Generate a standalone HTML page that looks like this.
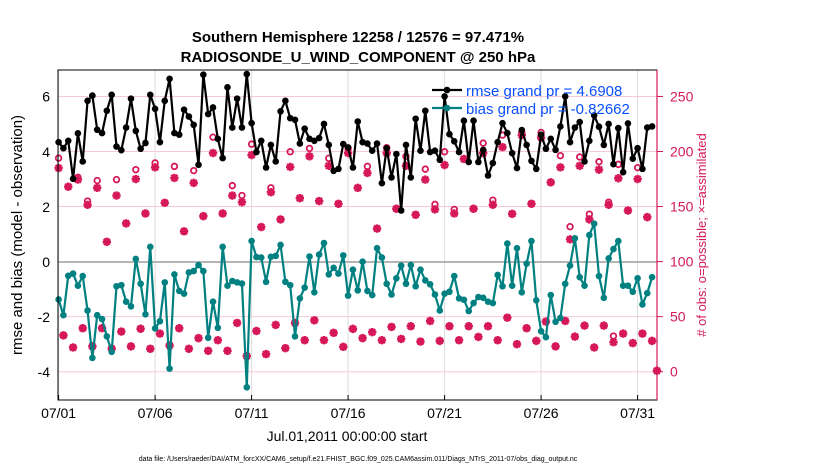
<!DOCTYPE html>
<html><head><meta charset="utf-8">
<style>
html,body{margin:0;padding:0;background:#fff;}
svg{display:block;font-family:"Liberation Sans",Arial,sans-serif;}
</style></head>
<body>
<svg id="chart" width="830" height="470" viewBox="0 0 830 470">
  <rect x="0" y="0" width="830" height="470" fill="#fff"/>
  <g id="grid"></g>
  <g id="marks"></g>
  <rect x="58" y="70" width="599" height="330" fill="none" stroke="#000" stroke-width="1"/>
  <line x1="657" y1="70" x2="657" y2="400" stroke="#d6185a" stroke-width="1.2"/>
  <g id="axes"></g>
  <text x="358" y="42" text-anchor="middle" font-size="15" font-weight="bold">Southern Hemisphere 12258 / 12576 = 97.471%</text>
  <text x="358" y="62" text-anchor="middle" font-size="15" font-weight="bold">RADIOSONDE_U_WIND_COMPONENT @ 250 hPa</text>
  <text transform="translate(22,235) rotate(-90)" text-anchor="middle" font-size="15">rmse and bias (model - observation)</text>
  <text transform="translate(706,235) rotate(-90)" text-anchor="middle" font-size="13" fill="#d6185a"># of obs: o=possible; ×=assimilated</text>
  <text x="347" y="441" text-anchor="middle" font-size="14">Jul.01,2011 00:00:00 start</text>
  <text x="358" y="461" text-anchor="middle" font-size="7">data file: /Users/raeder/DAI/ATM_forcXX/CAM6_setup/f.e21.FHIST_BGC.f09_025.CAM6assim.011/Diags_NTrS_2011-07/obs_diag_output.nc</text>
  <g>
    <line x1="432" y1="90" x2="462" y2="90" stroke="#000" stroke-width="2.2"/>
    <circle cx="447" cy="90" r="3.3" fill="#000"/>
    <text x="466" y="96" font-size="15" fill="#0a4fff">rmse grand pr = 4.6908</text>
    <line x1="432" y1="108" x2="462" y2="108" stroke="#008080" stroke-width="2.2"/>
    <circle cx="447" cy="108" r="3.3" fill="#008080"/>
    <text x="466" y="114" font-size="15" fill="#0a4fff">bias grand pr = -0.82662</text>
  </g>
</svg>
<script>
const rmse = [4.35,4.13,4.40,3.02,4.67,3.65,5.85,6.04,4.80,4.68,5.49,6.07,4.19,4.06,4.88,5.93,4.76,4.11,4.32,6.07,5.56,4.35,5.85,6.65,4.68,4.62,5.53,5.28,4.98,3.53,6.80,5.37,
5.61,4.47,3.77,6.34,4.88,5.93,4.88,6.82,5.04,3.99,4.40,3.43,4.25,3.65,5.47,5.85,5.22,5.16,4.30,4.84,4.47,4.40,4.50,5.01,4.25,3.31,3.38,4.28,4.16,3.43,5.10,
4.35,4.30,4.04,4.30,2.86,4.13,3.07,3.92,1.87,4.25,3.07,5.20,4.04,5.49,3.99,4.04,3.71,6.01,4.64,4.38,3.99,5.13,3.63,5.13,3.63,4.07,3.14,3.59,4.35,5.04,4.68,
3.95,3.41,4.79,4.25,3.67,3.38,4.62,4.11,4.47,4.07,4.92,6.01,4.35,4.88,5.08,3.65,4.40,5.32,4.91,4.25,5.01,3.55,4.86,3.26,5.03,3.75,4.13,3.38,4.88,4.92];
const bias = [-1.36,-1.93,-0.50,-0.42,-0.86,-0.51,-1.76,-3.48,-1.93,-2.07,-2.70,-3.26,-0.88,-0.84,-1.44,-1.61,0.11,-0.79,-1.90,0.55,-2.41,-2.15,-0.74,-3.87,-0.45,-1.05,-1.15,-0.38,-0.33,-0.11,-0.33,-2.75,
-1.44,-2.39,0.55,-0.86,-0.69,-0.74,-0.78,-4.55,0.76,0.18,0.16,-0.72,0.19,0.22,0.62,-0.72,-0.84,-2.70,-1.32,-0.93,0.20,-1.10,0.27,0.69,-0.45,-0.21,-0.42,0.24,-1.22,-0.28,-1.03,
0.01,-1.05,-1.20,0.50,0.16,-0.79,-1.18,-0.59,-0.13,-0.79,-0.11,-0.88,-0.28,-0.67,-0.81,-1.18,-1.76,-1.15,-1.08,-0.51,-1.32,-1.37,-1.78,-1.49,-1.27,-1.30,-1.44,-1.49,-0.47,-0.88,0.67,
-0.86,0.50,-1.10,-0.06,0.76,-1.39,-2.51,-2.73,-1.20,-2.17,-2.03,-0.79,-0.13,0.86,-0.55,-0.86,0.98,1.39,-0.51,-1.30,0.13,0.47,0.76,-0.86,-0.86,-1.08,-0.59,-1.54,-1.13,-0.55];
const assimilated = [185,33,168,22,174.5,39.5,151.6,23,167,39.5,118,21,160,36.5,134.7,23,175,39,143.7,20.8,185.6,34.6,153.4,23.8,176,39.5,127.5,20.8,171.5,30.5,141.3,
19,198.6,28.6,143.7,19,160,44.3,154,14.2,196.8,37,131.4,16,163,42.5,138.3,21.4,186,44.3,157.6,28.6,195.6,46.7,155,28.6,187,35.3,152.5,22.6,198.6,38.9,167,
30.5,180.5,35.9,130,28.6,198.6,40.7,148,29.8,187,41.3,142.5,27.4,174.5,46.1,147.4,28,187.7,41.3,143.7,28.6,193.2,41.3,148,31.6,198.6,41.3,151.6,28.6,204,49.1,
143.4,25,214.9,39.5,152.5,28,212.7,45.5,172,23,185.6,46.1,120.2,31.9,187,41.9,138.3,22,183.5,41.9,151.6,26.8,175.7,34.6,146.4,26,175,34.6,140.4,28,0.9];
const possible = [194,33,168,22,176.6,39.5,155,23,173.6,39.5,118,21,174.5,36.5,134.7,23,183.5,39,143.7,20.8,189.6,34.6,153.4,23.8,186.5,39.5,127.5,20.8,182.6,30.5,141.3,
19,213,28.6,143.7,19,169,44.3,160,14.2,206.7,37,131.4,16,167,42.5,138.3,21.4,199.8,44.3,157.6,28.6,202.8,46.7,155,28.6,193.8,35.3,152.5,22.6,202.8,38.9,167,
30.5,186.5,35.9,130,28.6,203.4,40.7,148,29.8,195.6,41.3,142.5,27.4,184,46.1,152,28,199.8,41.3,147.4,28.6,193.2,41.3,148,31.6,207.6,41.3,155.8,28.6,214.9,49.1,
143.4,25,217.3,39.5,152.5,28,217.3,45.5,172,23,196.2,46.1,131.7,31.9,195,41.9,143.1,22,190.7,41.9,154,32.4,188.3,34.6,146.4,26,185.3,34.6,140.4,28,0.9];
const xTickLabels = ["07/01","07/06","07/11","07/16","07/21","07/26","07/31"];
const xTickDays = [1,6,11,16,21,26,31];
const yLeftTicks = [-4,-2,0,2,4,6];
const yRightTicks = [0,50,100,150,200,250];

const NS = "http://www.w3.org/2000/svg";
const X0 = 58.6, PX_PER_DAY = 19.3;
function xDay(d){ return X0 + (d - 1) * PX_PER_DAY; }
function xT(i){ return xDay(1 + i / 4); }
function yL(v){ return 262 - v * 27.55; }
function yR(c){ return 371.7 - c * 1.101; }
function mk(tag, attrs, parent){ const e = document.createElementNS(NS, tag); for (const k in attrs) e.setAttribute(k, attrs[k]); parent.appendChild(e); return e; }

const grid = document.getElementById('grid');
const marks = document.getElementById('marks');
const axes = document.getElementById('axes');
const PINK = "#d6185a";

// grid
xTickDays.forEach((d, i) => {
  const x = xDay(d);
  const g = mk('line', {x1:x, y1:70, x2:x, y2:400, stroke:'#dcdcdc', 'stroke-width':1}, grid);
  
  
  const t = mk('line', {x1:x, y1:400, x2:x, y2:395, stroke:'#000', 'stroke-width':1}, axes);
  
  
  const lb = mk('text', {x:x, y:418, 'text-anchor':'middle', 'font-size':14}, axes);
  lb.textContent = xTickLabels[i];
  
  
});
yRightTicks.forEach(c => {
  const y = yR(c);
  const g = mk('line', {x1:58, y1:y, x2:657, y2:y, stroke:'#f6c9d8', 'stroke-width':1}, grid);
  
  
  const t = mk('line', {x1:657, y1:y, x2:663, y2:y, stroke:PINK, 'stroke-width':1}, axes);
  
  
  const lb = mk('text', {x:670, y:y + 5, 'font-size':14, fill:PINK}, axes);
  lb.textContent = String(c);
  
  
});
yLeftTicks.forEach(v => {
  const y = yL(v);
  const lb = mk('text', {x:50, y:y + 5, 'text-anchor':'end', 'font-size':14}, axes);
  lb.textContent = String(v);
  
  
});
const zl = mk('line', {x1:58, y1:yL(0), x2:657, y2:yL(0), stroke:'#b5b5b5', 'stroke-width':2}, grid);



// obs counts
possible.forEach((c, i) => {
  const el = mk('circle', {cx:xT(i), cy:yR(c), r:2.8, fill:'none', stroke:PINK, 'stroke-width':1.8}, marks);
  
  
});
assimilated.forEach((c, i) => {
  const x = xT(i), y = yR(c), s = 4.2;
  const d = `M${x-s},${y}L${x+s},${y}M${x},${y-s}L${x},${y+s}M${x-s*0.72},${y-s*0.72}L${x+s*0.72},${y+s*0.72}M${x-s*0.72},${y+s*0.72}L${x+s*0.72},${y-s*0.72}`;
  const el = mk('path', {d:d, stroke:PINK, 'stroke-width':2.4, fill:'none'}, marks);
  
  
});

function series(vals, color, name){
  const d = vals.map((v, i) => (i ? 'L' : 'M') + xT(i).toFixed(2) + ',' + yL(v).toFixed(2)).join('');
  const p = mk('path', {d:d, stroke:color, 'stroke-width':2.2, fill:'none', 'stroke-linejoin':'round'}, marks);
  
  
  vals.forEach((v, i) => {
    const c = mk('circle', {cx:xT(i), cy:yL(v), r:3.3, fill:color}, marks);
    
    
  });
}
series(bias, '#008080', 'bias');
series(rmse, '#000000', 'rmse');
</script>
</body></html>
